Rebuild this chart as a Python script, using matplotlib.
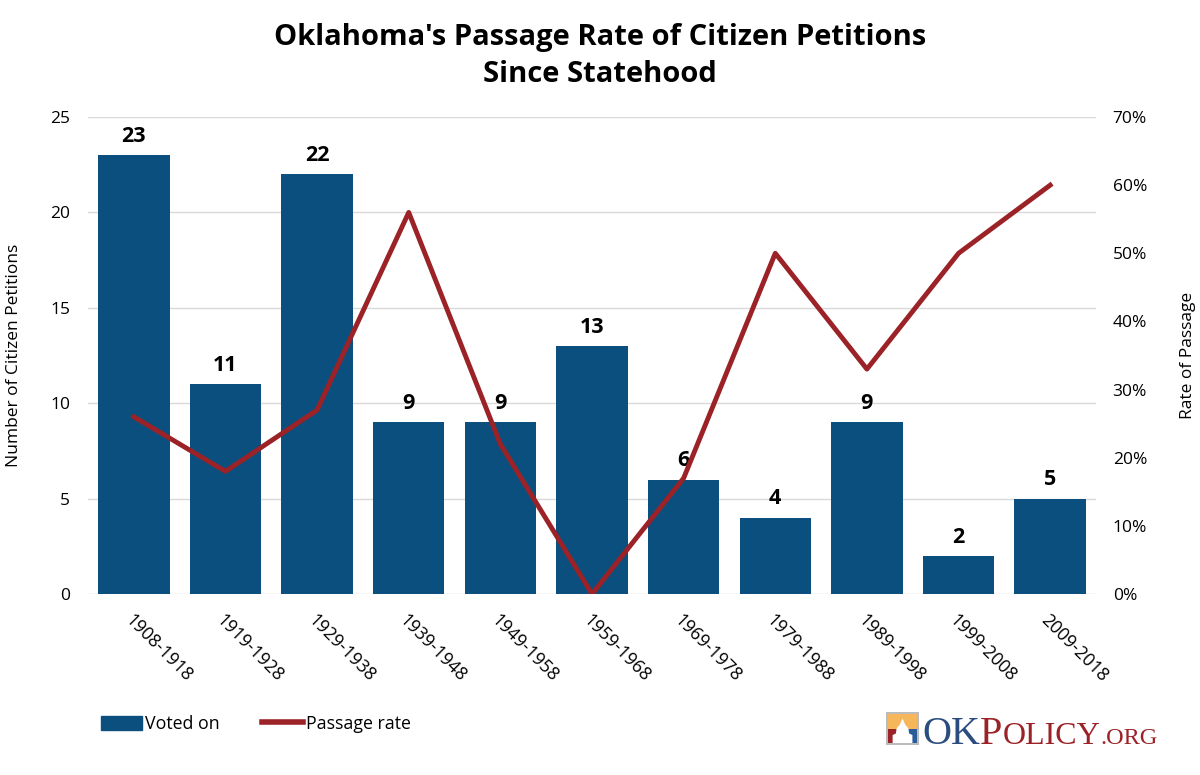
import matplotlib
matplotlib.use("Agg")
import matplotlib.pyplot as plt
from matplotlib.patches import Rectangle, Polygon
from matplotlib.lines import Line2D

plt.rcParams['font.family'] = ['Open Sans', 'DejaVu Sans']

periods = ["1908-1918", "1919-1928", "1929-1938", "1939-1948", "1949-1958",
           "1959-1968", "1969-1978", "1979-1988", "1989-1998", "1999-2008", "2009-2018"]
voted_on = [23, 11, 22, 9, 9, 13, 6, 4, 9, 2, 5]
passage_rate = [26, 18, 27, 56, 22, 0, 17, 50, 33, 50, 60]  # percent
left_ticks = [0, 5, 10, 15, 20, 25]
right_ticks = [0, 10, 20, 30, 40, 50, 60, 70]

BAR = "#0B4F7E"
LINE = "#9B2226"
GRID = "#D9D9D9"

fig = plt.figure(figsize=(12, 7.75), dpi=100)
ax = fig.add_axes([88/1200, 1-594/775, (1096-88)/1200, (594-117)/775])
x = list(range(len(periods)))
ax.bar(x, voted_on, width=0.78, color=BAR, zorder=2)
ax.set_xlim(-0.5, len(periods)-0.5)
ax.set_ylim(0, 25)
ax.set_yticks(left_ticks)
ax.set_yticklabels([str(t) for t in left_ticks], fontsize=12.5)
ax.grid(axis='y', color=GRID, linewidth=1, zorder=0)
for s in ax.spines.values():
    s.set_visible(False)
ax.tick_params(axis='both', length=0)
ax.tick_params(axis='y', pad=13)
ax.set_xticks(x)
ax.set_xticklabels(periods, rotation=-45, ha='left', va='top', rotation_mode='anchor', fontsize=12.8)
ax.tick_params(axis='x', pad=12)
ax.set_ylabel("Number of Citizen Petitions", fontsize=12.5, labelpad=20)
for xi, v in zip(x, voted_on):
    ax.annotate(str(v), (xi, v), xytext=(0, 6), textcoords='offset points',
                ha='center', va='bottom', fontsize=15.5, fontweight='bold', color='black')

ax2 = ax.twinx()
ax2.plot(x, passage_rate, color=LINE, linewidth=3.5, zorder=3)
ax2.set_ylim(0, 70)
ax2.set_yticks(right_ticks)
ax2.set_yticklabels([f"{t}%" for t in right_ticks], fontsize=12.5)
for s in ax2.spines.values():
    s.set_visible(False)
ax2.tick_params(axis='both', length=0)
ax2.tick_params(axis='y', pad=12)
ax2.set_ylabel("Rate of Passage", fontsize=12.5, labelpad=24)

fig.text(600/1200, 1-38/775, "Oklahoma's Passage Rate of Citizen Petitions", ha='center', va='center',
         fontsize=21, fontweight='bold')
fig.text(600/1200, 1-75/775, "Since Statehood", ha='center', va='center',
         fontsize=21, fontweight='bold')

# Legend
handles = [Rectangle((0, 0), 1, 1, color=BAR), Line2D([0], [0], color=LINE, linewidth=4)]
fig.legend(handles, ["Voted on", "Passage rate"], loc='center left',
           bbox_to_anchor=(85/1200, 1-724/775), ncol=2, frameon=False, fontsize=12.8,
           handlelength=2.3, handletextpad=0.15, columnspacing=2.4, handleheight=0.85)

# Logo icon
lax = fig.add_axes([886/1200, 1-745/775, 33/1200, 33/775])
lax.set_xlim(0, 1); lax.set_ylim(0, 1); lax.axis('off')
lax.add_patch(Rectangle((0, 0), 1, 1, facecolor='#BBBBBB', edgecolor='none'))
lax.add_patch(Rectangle((0.06, 0.06), 0.88, 0.88, facecolor='#2B5C9A', edgecolor='none'))
lax.add_patch(Rectangle((0.06, 0.06), 0.44, 0.88, facecolor='#9B2226', edgecolor='none'))
lax.add_patch(Rectangle((0.06, 0.5), 0.88, 0.44, facecolor='#F6B75A', edgecolor='none'))
lax.add_patch(Polygon([(0.2, 0.06), (0.2, 0.3), (0.3, 0.35), (0.32, 0.5), (0.42, 0.62),
                       (0.5, 0.8), (0.58, 0.62), (0.68, 0.5), (0.7, 0.35), (0.8, 0.3), (0.8, 0.06)],
                      facecolor='white', edgecolor='none'))

# Logo text, placed piece by piece
fig.canvas.draw()
renderer = fig.canvas.get_renderer()
parts = [("OK", '#2B4C7E', 29), ("P", '#9B2226', 29), ("OLICY", '#9B2226', 23), (".ORG", '#9B2226', 17.5)]
xpos = 922
base_y = 1 - 744/775
for txt, col, size in parts:
    t = fig.text(xpos/1200, base_y, txt, color=col, fontsize=size, family='Liberation Serif',
                 ha='left', va='baseline')
    bb = t.get_window_extent(renderer=renderer)
    xpos += bb.width

fig.savefig("out.png", dpi=100)
